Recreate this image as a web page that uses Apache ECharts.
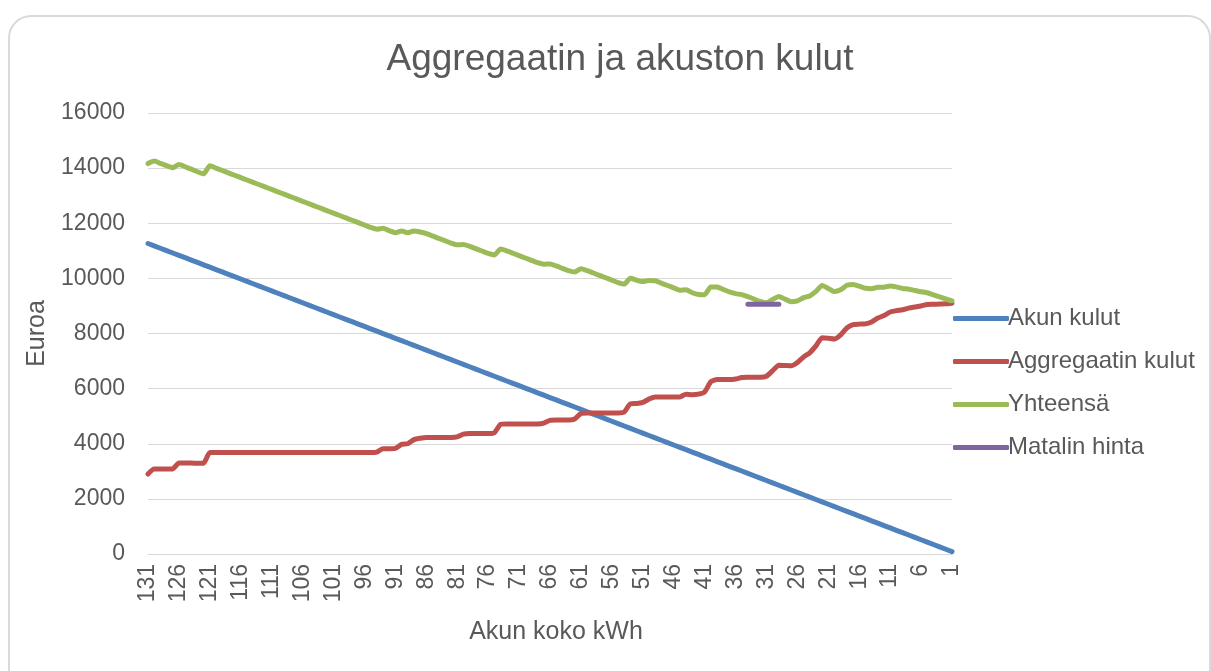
<!DOCTYPE html>
<html>
<head>
<meta charset="utf-8">
<script src="https://cdn.jsdelivr.net/npm/echarts@6/dist/echarts.min.js"></script>
<style>
  html, body { margin: 0; padding: 0; background: #fff; }
  #chart { width: 1211px; height: 671px; }
</style>
</head>
<body>
<div id="chart"></div>
<script>
// akun koko kWh, 131 -> 1
var kwh = [
  131,130,129,128,127,126,125,124,123,122,
  121,120,119,118,117,116,115,114,113,112,
  111,110,109,108,107,106,105,104,103,102,
  101,100,99,98,97,96,95,94,93,92,
  91,90,89,88,87,86,85,84,83,82,
  81,80,79,78,77,76,75,74,73,72,
  71,70,69,68,67,66,65,64,63,62,
  61,60,59,58,57,56,55,54,53,52,
  51,50,49,48,47,46,45,44,43,42,
  41,40,39,38,37,36,35,34,33,32,
  31,30,29,28,27,26,25,24,23,22,
  21,20,19,18,17,16,15,14,13,12,
  11,10,9,8,7,6,5,4,3,2,
  1
];

var akunKulut = [
  11266,11180,11094,11008,10922,10836,10750,10664,10578,10492,
  10406,10320,10234,10148,10062,9976,9890,9804,9718,9632,
  9546,9460,9374,9288,9202,9116,9030,8944,8858,8772,
  8686,8600,8514,8428,8342,8256,8170,8084,7998,7912,
  7826,7740,7654,7568,7482,7396,7310,7224,7138,7052,
  6966,6880,6794,6708,6622,6536,6450,6364,6278,6192,
  6106,6020,5934,5848,5762,5676,5590,5504,5418,5332,
  5246,5160,5074,4988,4902,4816,4730,4644,4558,4472,
  4386,4300,4214,4128,4042,3956,3870,3784,3698,3612,
  3526,3440,3354,3268,3182,3096,3010,2924,2838,2752,
  2666,2580,2494,2408,2322,2236,2150,2064,1978,1892,
  1806,1720,1634,1548,1462,1376,1290,1204,1118,1032,
  946,860,774,688,602,516,430,344,258,172,
  86
];

var aggregaatinKulut = [
  2900,3080,3080,3080,3090,3300,3300,3300,3290,3300,
  3680,3680,3680,3680,3680,3680,3680,3680,3680,3680,
  3680,3680,3680,3680,3680,3680,3680,3680,3680,3680,
  3680,3680,3680,3680,3680,3680,3680,3700,3820,3820,
  3830,3980,4000,4150,4200,4230,4230,4230,4230,4230,
  4250,4350,4370,4370,4370,4370,4400,4700,4720,4720,
  4720,4720,4720,4720,4750,4850,4860,4860,4860,4900,
  5100,5120,5120,5120,5120,5120,5120,5150,5450,5460,
  5500,5620,5700,5700,5700,5700,5700,5800,5780,5800,
  5880,6250,6330,6330,6330,6350,6400,6410,6410,6410,
  6450,6650,6850,6840,6830,6950,7150,7300,7550,7850,
  7830,7800,7950,8200,8320,8340,8350,8420,8560,8650,
  8780,8830,8860,8920,8960,9000,9050,9060,9070,9080,
  9100
];

var yhteensa = [
  14166,14260,14174,14088,14012,14136,14050,13964,13868,13792,
  14086,14000,13914,13828,13742,13656,13570,13484,13398,13312,
  13226,13140,13054,12968,12882,12796,12710,12624,12538,12452,
  12366,12280,12194,12108,12022,11936,11850,11784,11818,11732,
  11656,11720,11654,11718,11682,11626,11540,11454,11368,11282,
  11216,11230,11164,11078,10992,10906,10850,11064,10998,10912,
  10826,10740,10654,10568,10512,10526,10450,10364,10278,10232,
  10346,10280,10194,10108,10022,9936,9850,9794,10008,9932,
  9886,9920,9914,9828,9742,9656,9570,9584,9478,9412,
  9406,9690,9684,9598,9512,9446,9410,9334,9248,9162,
  9116,9230,9344,9248,9152,9186,9300,9364,9528,9742,
  9636,9520,9584,9748,9782,9716,9640,9624,9678,9682,
  9726,9690,9634,9608,9562,9516,9480,9404,9328,9252,
  9186
];

// lowest total price, drawn as a short flat segment
var matalinKwh = ['34', '33', '32', '31', '30', '29'];
var matalinArvo = [9060, 9060, 9060, 9060, 9060, 9060];

var yTicks = { min: 0, max: 16000, interval: 2000 };

var categories = kwh.map(String);
var matalinData = matalinKwh.map(function (k, i) { return [k, matalinArvo[i]]; });

var chartDom = document.getElementById('chart');
var myChart = echarts.init(chartDom);
var font = '"Liberation Sans", Arial, sans-serif';
var grey = '#595959';

var option = {
  animation: false,
  color: ['#4F81BD', '#C0504D', '#9BBB59', '#8064A2'],
  textStyle: { fontFamily: font },
  graphic: [{
    type: 'rect',
    shape: { x: 9, y: 16, width: 1201, height: 700, r: 22 },
    style: { fill: 'none', stroke: '#dadada', lineWidth: 2 },
    silent: true
  }],
  title: {
    text: 'Aggregaatin ja akuston kulut',
    left: 615,
    top: 36,
    textAlign: 'center',
    textStyle: { fontFamily: font, fontSize: 37, fontWeight: 'normal', color: grey }
  },
  legend: {
    orient: 'vertical',
    left: 948,
    top: 301,
    itemWidth: 56,
    itemHeight: 5,
    itemGap: 18,
    icon: 'roundRect',
    textStyle: { fontFamily: font, fontSize: 24, color: grey, lineHeight: 25, padding: [0, 0, 0, -6] },
    data: ['Akun kulut', 'Aggregaatin kulut', 'Yhteensä', 'Matalin hinta']
  },
  grid: { left: 148, right: 259, top: 113, bottom: 117 },
  xAxis: {
    type: 'category',
    data: categories,
    boundaryGap: false,
    name: 'Akun koko kWh',
    nameLocation: 'middle',
    nameGap: 66,
    nameTextStyle: { fontFamily: font, fontSize: 25, color: grey, padding: [0, 0, 0, 12] },
    axisLine: { lineStyle: { color: '#d9d9d9', width: 1 } },
    axisTick: { show: false },
    axisLabel: { interval: 4, rotate: 90, margin: 10, fontSize: 23, color: grey, fontFamily: font }
  },
  yAxis: {
    type: 'value',
    min: yTicks.min,
    max: yTicks.max,
    interval: yTicks.interval,
    name: 'Euroa',
    nameLocation: 'middle',
    nameGap: 98,
    nameTextStyle: { fontFamily: font, fontSize: 25, color: grey },
    axisLine: { show: false },
    axisTick: { show: false },
    axisLabel: {
      margin: 23, fontSize: 23, color: grey, fontFamily: font,
      formatter: function (v) { return String(v); }
    },
    splitLine: { lineStyle: { color: '#d9d9d9', width: 1 } }
  },
  series: [
    { name: 'Akun kulut', type: 'line', data: akunKulut, showSymbol: false, lineStyle: { width: 5, cap: 'round', join: 'round' } },
    { name: 'Aggregaatin kulut', type: 'line', data: aggregaatinKulut, showSymbol: false, smooth: 0.2, lineStyle: { width: 5, cap: 'round', join: 'round' } },
    { name: 'Yhteensä', type: 'line', data: yhteensa, showSymbol: false, smooth: 0.2, lineStyle: { width: 5, cap: 'round', join: 'round' } },
    { name: 'Matalin hinta', type: 'line', data: matalinData, showSymbol: false, lineStyle: { width: 5, cap: 'round' } }
  ]
};

option && myChart.setOption(option);
</script>
</body>
</html>
